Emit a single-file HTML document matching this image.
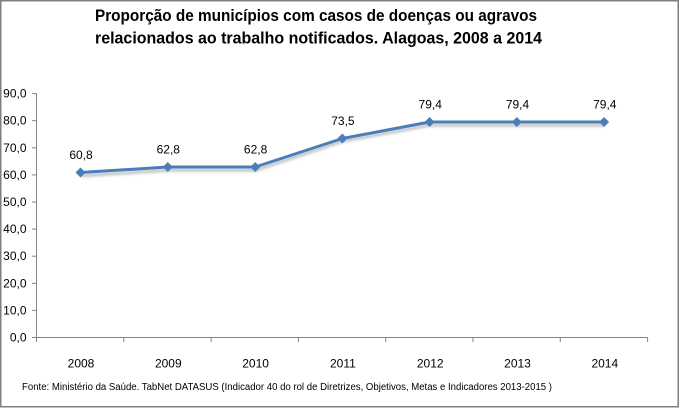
<!DOCTYPE html>
<html>
<head>
<meta charset="utf-8">
<style>
html,body{margin:0;padding:0;background:#fff;}
svg{display:block;}
text{font-family:"Liberation Sans",Arial,sans-serif;fill:#000;}
</style>
</head>
<body>
<svg width="680" height="408" viewBox="0 0 680 408" xmlns="http://www.w3.org/2000/svg">
<defs>
<filter id="sh" x="-5%" y="-50%" width="110%" height="200%">
<feGaussianBlur stdDeviation="1.3"/>
</filter>
</defs>
<rect x="0" y="0" width="680" height="408" fill="#fff"/>
<rect x="0.75" y="0.75" width="677.5" height="406" fill="none" stroke="#7f7f7f" stroke-width="1.5"/>

<!-- Title -->
<text x="95" y="21" font-size="17" font-weight="bold" textLength="442" lengthAdjust="spacingAndGlyphs">Proporção de municípios com casos de doenças ou agravos</text>
<text x="95" y="43.5" font-size="17" font-weight="bold" textLength="447" lengthAdjust="spacingAndGlyphs">relacionados ao trabalho notificados. Alagoas, 2008 a 2014</text>

<!-- Axes -->
<g stroke="#868686" stroke-width="1" fill="none">
<line x1="36.5" y1="93" x2="36.5" y2="337.5"/>
<line x1="36" y1="337.5" x2="647.6" y2="337.5"/>
<line x1="32" y1="337.5" x2="36.5" y2="337.5"/>
<line x1="32" y1="310.4" x2="36.5" y2="310.4"/>
<line x1="32" y1="283.3" x2="36.5" y2="283.3"/>
<line x1="32" y1="256.2" x2="36.5" y2="256.2"/>
<line x1="32" y1="229.1" x2="36.5" y2="229.1"/>
<line x1="32" y1="202.0" x2="36.5" y2="202.0"/>
<line x1="32" y1="174.9" x2="36.5" y2="174.9"/>
<line x1="32" y1="147.8" x2="36.5" y2="147.8"/>
<line x1="32" y1="120.7" x2="36.5" y2="120.7"/>
<line x1="32" y1="93.6" x2="36.5" y2="93.6"/>
<line x1="36.5" y1="337.5" x2="36.5" y2="342"/>
<line x1="123.8" y1="337.5" x2="123.8" y2="342"/>
<line x1="211.1" y1="337.5" x2="211.1" y2="342"/>
<line x1="298.4" y1="337.5" x2="298.4" y2="342"/>
<line x1="385.7" y1="337.5" x2="385.7" y2="342"/>
<line x1="473.0" y1="337.5" x2="473.0" y2="342"/>
<line x1="560.3" y1="337.5" x2="560.3" y2="342"/>
<line x1="647.6" y1="337.5" x2="647.6" y2="342"/>
</g>

<!-- Y labels -->
<g font-size="12" text-anchor="end">
<text x="26.5" y="341.5">0,0</text>
<text x="26.5" y="314.4">10,0</text>
<text x="26.5" y="287.3">20,0</text>
<text x="26.5" y="260.2">30,0</text>
<text x="26.5" y="233.1">40,0</text>
<text x="26.5" y="206.0">50,0</text>
<text x="26.5" y="178.9">60,0</text>
<text x="26.5" y="151.8">70,0</text>
<text x="26.5" y="124.7">80,0</text>
<text x="26.5" y="97.6">90,0</text>
</g>

<!-- X labels -->
<g font-size="12" text-anchor="middle">
<text x="81" y="367.5">2008</text>
<text x="168.3" y="367.5">2009</text>
<text x="255.6" y="367.5">2010</text>
<text x="342.9" y="367.5">2011</text>
<text x="430.2" y="367.5">2012</text>
<text x="517.5" y="367.5">2013</text>
<text x="604.8" y="367.5">2014</text>
</g>

<!-- Series shadow -->
<polyline points="81,175.7 168,170.2 255.5,170.2 342.5,141.2 429.8,125.2 517,125.2 604.5,125.2" fill="none" stroke="#8c8c8c" stroke-opacity="0.55" stroke-width="3" filter="url(#sh)"/>
<!-- Series -->
<polyline points="80.5,172.5 167.8,167 255.2,167 342.3,138.5 429.6,122 516.8,122 604.1,122" fill="none" stroke="#4a7ebb" stroke-width="3" stroke-linejoin="round"/>
<g fill="#4a7ebb">
<polygon points="80.5,167.5 85.5,172.5 80.5,177.5 75.5,172.5"/>
<polygon points="167.8,162 172.8,167 167.8,172 162.8,167"/>
<polygon points="255.2,162 260.2,167 255.2,172 250.2,167"/>
<polygon points="342.3,133.5 347.3,138.5 342.3,143.5 337.3,138.5"/>
<polygon points="429.6,117 434.6,122 429.6,127 424.6,122"/>
<polygon points="516.8,117 521.8,122 516.8,127 511.8,122"/>
<polygon points="604.1,117 609.1,122 604.1,127 599.1,122"/>
</g>

<!-- Data labels -->
<g font-size="12" text-anchor="middle">
<text x="81" y="159">60,8</text>
<text x="168.3" y="153.5">62,8</text>
<text x="255.6" y="153.5">62,8</text>
<text x="342.9" y="125">73,5</text>
<text x="430.2" y="108.5">79,4</text>
<text x="517.5" y="108.5">79,4</text>
<text x="604.8" y="108.5">79,4</text>
</g>

<!-- Footer -->
<text x="22" y="390" font-size="10" textLength="530" lengthAdjust="spacingAndGlyphs">Fonte: Ministério da Saúde. TabNet DATASUS (Indicador 40  do rol de Diretrizes, Objetivos, Metas e Indicadores 2013-2015 )</text>
</svg>
</body>
</html>
